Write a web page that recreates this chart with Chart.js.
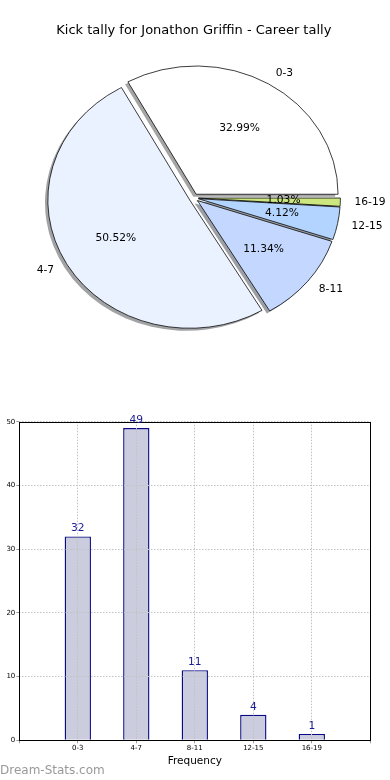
<!DOCTYPE html>
<html>
<head>
<meta charset="utf-8">
<script src="https://cdn.jsdelivr.net/npm/chart.js@4.4.1/dist/chart.umd.min.js"></script>
<style>
  html, body { margin: 0; padding: 0; background: #fff; }
  body { width: 390px; height: 780px; position: relative; overflow: hidden; }
  #pie { position: absolute; left: 0; top: 0; }
  #bar { position: absolute; left: 0; top: 400px; }
</style>
</head>
<body>
<canvas id="pie" width="390" height="400"></canvas>
<canvas id="bar" width="390" height="380"></canvas>
<script>
// ---- data ----
const titleText = 'Kick tally for Jonathon Griffin - Career tally';
const categories = ['0-3', '4-7', '8-11', '12-15', '16-19'];
const counts = [32, 49, 11, 4, 1];
const yTickValues = [0, 10, 20, 30, 40, 50];
const xAxisTitle = 'Frequency';
const watermark = 'Dream-Stats.com';

// ---- styles ----
const pieColors = ['#ffffff', '#ebf2ff', '#c4d8ff', '#b3d4ff', '#cce680'];
const FONT = 'DejaVu Sans';
Chart.defaults.font.family = FONT;
Chart.defaults.color = '#000';

const PIE_RADIUS = 141.9;
const EXPLODE = 0.033;     // fraction of radius
const SHADOW = 0.02;       // fraction of radius
const SY = 0.904;          // vertical squash of the pie

function shadowColor(hex) {
  const n = parseInt(hex.slice(1), 16);
  const r = ((n >> 16) & 255) * 0.3, g = ((n >> 8) & 255) * 0.3, b = (n & 255) * 0.3;
  return `rgba(${r|0},${g|0},${b|0},0.5)`;
}

// Matplotlib draws counter-clockwise from 3 o'clock; Chart.js draws clockwise,
// so feed the slices in reverse order starting at 3 o'clock.
const pieLabels = categories.slice().reverse();
const pieValues = counts.slice().reverse();
const pieBg = pieColors.slice().reverse();

const pieFx = {
  id: 'pieFx',
  beforeDatasetsDraw(chart) {
    const ctx = chart.ctx;
    const meta = chart.getDatasetMeta(0);
    const cx = meta.data[0].x, cy = meta.data[0].y;
    chart.$center = { cx, cy };
    ctx.save();
    ctx.translate(cx, cy); ctx.scale(1, SY); ctx.translate(-cx, -cy);
    const bg = chart.data.datasets[0].backgroundColor;
    meta.data.forEach((arc, i) => {
      const mid = (arc.startAngle + arc.endAngle) / 2;
      const d = EXPLODE * arc.outerRadius;
      const s = SHADOW * arc.outerRadius;
      const ox = cx + d * Math.cos(mid) - s, oy = cy + d * Math.sin(mid) + s;
      ctx.beginPath();
      ctx.moveTo(ox, oy);
      ctx.arc(ox, oy, arc.outerRadius, arc.startAngle, arc.endAngle);
      ctx.closePath();
      ctx.fillStyle = shadowColor(bg[i]);
      ctx.fill();
    });
    meta.data.forEach((arc) => {
      const mid = (arc.startAngle + arc.endAngle) / 2;
      const d = EXPLODE * arc.outerRadius;
      arc.$orig = { x: arc.x, y: arc.y };
      arc.x = cx + d * Math.cos(mid);
      arc.y = cy + d * Math.sin(mid);
    });
  },
  afterDatasetsDraw(chart) {
    const ctx = chart.ctx;
    const meta = chart.getDatasetMeta(0);
    meta.data.forEach((arc) => { arc.x = arc.$orig.x; arc.y = arc.$orig.y; });
    ctx.restore();
    const { cx, cy } = chart.$center;
    const vals = chart.data.datasets[0].data;
    const labs = chart.data.labels;
    const sum = vals.reduce((a, b) => a + b, 0);
    ctx.save();
    ctx.fillStyle = '#000';
    ctx.font = `10.7px "${FONT}"`;
    ctx.textBaseline = 'middle';
    meta.data.forEach((arc, i) => {
      const mid = (arc.startAngle + arc.endAngle) / 2;
      const R = arc.outerRadius;
      const c = Math.cos(mid), s = Math.sin(mid);
      const vx = cx + EXPLODE * R * c, vy = cy + SY * EXPLODE * R * s;
      ctx.textAlign = 'center';
      ctx.fillText((vals[i] / sum * 100).toFixed(2) + '%', vx + 0.6 * R * c, vy + SY * 0.6 * R * s);
      ctx.textAlign = c > 0 ? 'left' : 'right';
      ctx.fillText(labs[i], vx + 1.1 * R * c, vy + SY * 1.1 * R * s);
    });
    ctx.restore();
  }
};

new Chart(document.getElementById('pie'), {
  type: 'pie',
  data: {
    labels: pieLabels,
    datasets: [{
      data: pieValues,
      backgroundColor: pieBg,
      borderColor: '#000',
      borderWidth: 0.8,
      borderJoinStyle: 'miter'
    }]
  },
  options: {
    responsive: false,
    animation: false,
    events: [],
    rotation: 90,
    radius: PIE_RADIUS,
    layout: { padding: { left: 0, right: 2.4, top: 0, bottom: 42.8 } },
    plugins: {
      legend: { display: false },
      tooltip: { enabled: false },
      title: {
        display: true,
        text: titleText,
        font: { size: 13, weight: 'normal', family: FONT },
        color: '#000',
        padding: { top: 23, bottom: 0 }
      }
    }
  },
  plugins: [pieFx]
});

// ---- bar chart ----
const barFx = {
  id: 'barFx',
  afterDraw(chart) {
    const ctx = chart.ctx;
    const a = chart.chartArea;
    ctx.save();
    ctx.strokeStyle = '#000';
    ctx.lineWidth = 1;
    ctx.strokeRect(Math.round(a.left) + 0.5, Math.round(a.top) + 0.5,
                   Math.round(a.right) - Math.round(a.left), Math.round(a.bottom) - Math.round(a.top));
    const meta = chart.getDatasetMeta(0);
    const data = chart.data.datasets[0].data;
    ctx.fillStyle = '#1c1c96';
    ctx.font = `10.7px "${FONT}"`;
    ctx.textAlign = 'center';
    ctx.textBaseline = 'bottom';
    meta.data.forEach((bar, i) => {
      ctx.fillText(String(data[i].y), bar.x, bar.y - 2.5);
    });
    ctx.fillStyle = '#999';
    ctx.font = `12px "${FONT}"`;
    ctx.textAlign = 'left';
    ctx.textBaseline = 'middle';
    ctx.fillText(watermark, 0, 371);
    ctx.restore();
  }
};

const gridCommon = { color: '#c2c2c2', lineWidth: 1, z: 1, tickLength: 3, tickColor: '#999' };

new Chart(document.getElementById('bar'), {
  type: 'bar',
  data: {
    datasets: [{
      data: categories.map((c, i) => ({ x: i, y: counts[i] })),
      backgroundColor: '#ccccdf',
      borderColor: '#0a0a84',
      borderWidth: 1.4,
      barPercentage: 0.45,
      categoryPercentage: 1
    }]
  },
  options: {
    responsive: false,
    animation: false,
    events: [],
    layout: { padding: { left: 0, right: 19.7, top: 21.7, bottom: 0 } },
    plugins: { legend: { display: false }, tooltip: { enabled: false }, title: { display: false } },
    scales: {
      x: {
        type: 'linear',
        min: -1, max: 5,
        offset: false,
        afterBuildTicks: (s) => { s.ticks = [-1, 0, 1, 2, 3, 4, 5].map(v => ({ value: v })); },
        ticks: {
          callback: (v) => categories[v] !== undefined ? categories[v] : '',
          font: { size: 7 }, color: '#000', padding: 1, maxRotation: 0, autoSkip: false
        },
        grid: Object.assign({ offset: false }, gridCommon),
        border: { display: false, dash: [1.5, 1.5] },
        title: { display: true, text: xAxisTitle, font: { size: 10.5 }, color: '#000', padding: { top: 0, bottom: 12.7 } },
        afterFit: (s) => { s.height = 39.7; }
      },
      y: {
        min: 0, max: 50,
        afterBuildTicks: (s) => { s.ticks = yTickValues.map(v => ({ value: v })); },
        ticks: { font: { size: 7 }, color: '#000', padding: 1 },
        grid: gridCommon,
        border: { display: false, dash: [1.5, 1.5] },
        afterFit: (s) => { s.width = 19.3; }
      }
    }
  },
  plugins: [barFx]
});
</script>
</body>
</html>
